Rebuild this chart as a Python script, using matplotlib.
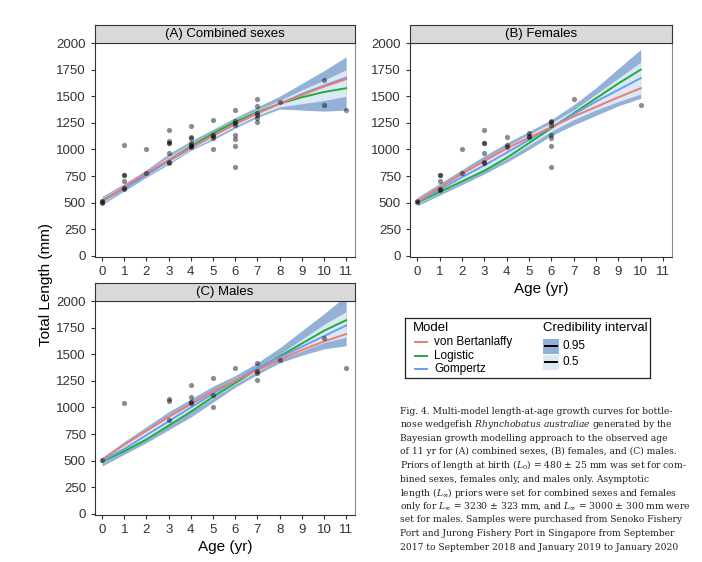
import matplotlib
matplotlib.use("Agg")
import matplotlib.pyplot as plt
import numpy as np

plt.rcParams['font.family'] = ['Liberation Sans', 'DejaVu Sans']

# ---------------- data ----------------
ages_full = list(range(12))
ages_fem = list(range(11))

# observed points (age, length)
A_age = [0,0,0,1,1,1,1,1,1,2,2,3,3,3,3,3,3,3,4,4,4,4,4,4,4,5,5,5,5,5,6,6,6,6,6,6,6,6,7,7,7,7,7,7,8,10,10,11]
A_len = [510,520,500,1040,760,760,700,640,630,1000,775,1180,1080,1065,1060,970,880,870,1220,1120,1110,1060,1040,1030,1020,
         1280,1140,1130,1110,1000,1370,1270,1250,1230,1140,1100,1030,840,1470,1410,1340,1320,1300,1260,1450,1650,1415,1370]
B_age = [0,0,1,1,1,1,1,2,2,3,3,3,3,3,3,4,4,4,5,5,5,6,6,6,6,6,6,6,7,10]
B_len = [510,520,760,760,700,630,620,1000,775,1180,1060,1060,970,880,870,1120,1040,1020,1150,1130,1120,
         1270,1260,1230,1140,1110,1030,840,1470,1415]
C_age = [0,1,3,3,3,4,4,4,4,5,5,5,6,7,7,7,7,8,10,11]
C_len = [510,1040,1080,1065,880,1215,1100,1050,1045,1275,1120,1000,1370,1415,1340,1320,1260,1450,1650,1370]

# model curves
A_vb = [510,650,780,900,1020,1130,1240,1340,1430,1510,1590,1660]
A_lo = [520,640,770,900,1030,1150,1260,1350,1430,1490,1540,1575]
A_go = [510,630,760,890,1010,1130,1240,1340,1430,1520,1600,1675]
A_u95 = [560,680,810,960,1080,1190,1300,1400,1500,1620,1740,1870]
A_l95 = [480,610,740,860,990,1090,1200,1300,1380,1370,1360,1370]
A_u50 = [545,665,795,930,1055,1165,1280,1370,1460,1560,1650,1750]
A_l50 = [495,625,755,875,1000,1110,1220,1320,1400,1430,1460,1500]

B_vb = [510,640,770,890,1010,1110,1210,1310,1400,1490,1575]
B_lo = [500,600,700,800,920,1060,1200,1340,1480,1620,1750]
B_go = [505,620,740,850,970,1090,1210,1330,1450,1560,1670]
B_u95 = [550,680,810,940,1060,1170,1280,1420,1580,1760,1940]
B_l95 = [470,570,670,770,880,1000,1130,1230,1320,1410,1480]
B_u50 = [530,650,780,900,1030,1140,1250,1370,1520,1670,1820]
B_l50 = [490,595,695,800,910,1040,1170,1280,1370,1450,1520]

C_vb = [510,650,780,910,1030,1150,1250,1350,1450,1540,1620,1690]
C_lo = [490,590,700,830,960,1100,1230,1360,1480,1600,1720,1820]
C_go = [500,610,740,870,1000,1130,1250,1370,1470,1570,1670,1770]
C_u95 = [530,680,820,960,1080,1200,1300,1420,1560,1720,1880,2050]
C_l95 = [450,560,670,790,910,1050,1190,1310,1420,1490,1550,1580]
C_u50 = [515,650,790,920,1040,1160,1270,1380,1500,1640,1780,1900]
C_l50 = [480,590,700,830,960,1090,1220,1340,1450,1530,1610,1660]

titles = ["(A) Combined sexes", "(B) Females", "(C) Males"]
xticks = list(range(12))
yticks = [0,250,500,750,1000,1250,1500,1750,2000]

c_vb, c_lo, c_go = '#F07A72', '#1AAE3A', '#6A9EF0'
c95, c50 = '#93B1D6', '#DCE8F3'

fig = plt.figure(figsize=(7.02, 5.62), dpi=100)
W, H = 702, 562

def px_axes(l, r, top, bot):
    return fig.add_axes([l/W, 1-bot/H, (r-l)/W, (bot-top)/H])

panels = [
    (95, 355, 43, 257, ages_full, A_vb, A_lo, A_go, A_u95, A_l95, A_u50, A_l50, A_age, A_len),
    (410, 672, 43, 257, ages_fem, B_vb, B_lo, B_go, B_u95, B_l95, B_u50, B_l50, B_age, B_len),
    (95, 355, 301, 515, ages_full, C_vb, C_lo, C_go, C_u95, C_l95, C_u50, C_l50, C_age, C_len),
]
for i, (l, r, t, b, ag, vb, lo, go, u95, l95, u50, l50, pa, pl) in enumerate(panels):
    ax = px_axes(l, r, t, b)
    ax.fill_between(ag, l95, u95, color=c95, lw=0)
    ax.fill_between(ag, l50, u50, color=c50, lw=0)
    ax.plot(ag, lo, color=c_lo, lw=1.4)
    ax.plot(ag, go, color=c_go, lw=1.4)
    ax.plot(ag, vb, color=c_vb, lw=1.4)
    ax.scatter(pa, pl, s=14, color='black', alpha=0.45, lw=0, zorder=5)
    ax.set_xlim(-0.32, 11.4)
    ax.set_ylim(-10, 2000)
    ax.set_xticks(xticks); ax.set_yticks(yticks)
    ax.tick_params(labelsize=9.5, length=3, colors='#333333', labelcolor='#333333')
    for s in ['top', 'right']:
        ax.spines[s].set_color('#888888'); ax.spines[s].set_linewidth(0.8)
    for s in ['left', 'bottom']:
        ax.spines[s].set_color('#333333'); ax.spines[s].set_linewidth(0.8)
    sax = px_axes(l, r, t-18, t)
    sax.set_facecolor('#D9D9D9')
    sax.set_xticks([]); sax.set_yticks([])
    for s in sax.spines.values():
        s.set_color('#333333'); s.set_linewidth(0.8)
    sax.text(0.5, 0.5, titles[i], ha='center', va='center', fontsize=9.5, transform=sax.transAxes)
    if i > 0:
        ax.set_xlabel("Age (yr)", fontsize=11, labelpad=3)

fig.text(46/W, 1-285/H, "Total Length (mm)", rotation=90, ha='center', va='center', fontsize=11)

# legend box
lax = px_axes(405, 650, 318, 378)
lax.set_xlim(0, 245); lax.set_ylim(60, 0)
lax.set_xticks([]); lax.set_yticks([])
for s in lax.spines.values():
    s.set_color('#222222'); s.set_linewidth(0.9)
lax.text(8, 10, "Model", fontsize=9.5, va='center')
for k, (lab, col) in enumerate([("von Bertanlaffy", c_vb), ("Logistic", c_lo), ("Gompertz", c_go)]):
    y = 24 + k*13.5
    lax.plot([10, 22], [y, y], color=col, lw=1.4)
    lax.text(29, y, lab, fontsize=8.5, va='center')
lax.text(138, 10, "Credibility interval", fontsize=9.5, va='center')
for k, (lab, col) in enumerate([("0.95", c95), ("0.5", c50)]):
    y = 28 + k*16
    lax.add_patch(plt.Rectangle((138, y-7.5), 16, 15, color=col, lw=0))
    lax.plot([140, 152], [y, y], color='black', lw=1.4)
    lax.text(158, y, lab, fontsize=8.5, va='center')

# caption
plt.rcParams['mathtext.fontset'] = 'custom'
plt.rcParams['mathtext.rm'] = 'DejaVu Serif'
plt.rcParams['mathtext.it'] = 'DejaVu Serif:italic'
cap = [
    "Fig. 4. Multi-model length-at-age growth curves for bottle-",
    r"nose wedgefish $\it{Rhynchobatus\ australiae}$ generated by the",
    "Bayesian growth modelling approach to the observed age",
    "of 11 yr for (A) combined sexes, (B) females, and (C) males.",
    r"Priors of length at birth ($L_0$) = 480 ± 25 mm was set for com-",
    "bined sexes, females only, and males only. Asymptotic",
    r"length ($L_\infty$) priors were set for combined sexes and females",
    r"only for $L_\infty$ = 3230 ± 323 mm, and $L_\infty$ = 3000 ± 300 mm were",
    "set for males. Samples were purchased from Senoko Fishery",
    "Port and Jurong Fishery Port in Singapore from September",
    "2017 to September 2018 and January 2019 to January 2020",
]
for k, line in enumerate(cap):
    fig.text(400/W, 1-(411 + k*13.6)/H, line, fontsize=6.6, family='DejaVu Serif',
             va='center', ha='left', color='#222222')

fig.savefig("out.png", dpi=100)
